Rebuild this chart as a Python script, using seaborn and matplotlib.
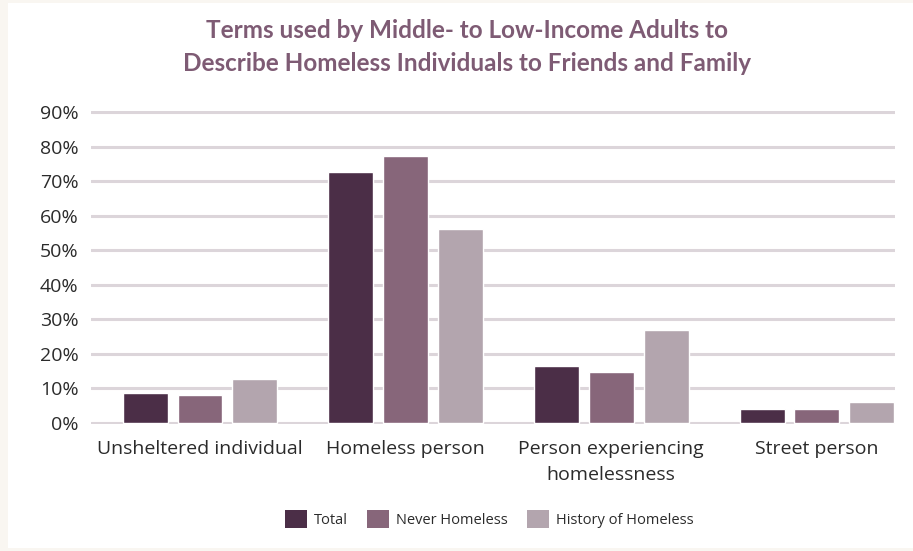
import matplotlib
matplotlib.use("Agg")
import matplotlib.pyplot as plt
from matplotlib.patches import Rectangle, Patch
import seaborn as sns
import pandas as pd

# Survey results (% of respondents using each term)
terms = ["Unsheltered individual", "Homeless person",
         "Person experiencing\nhomelessness", "Street person"]
groups = ["Total", "Never Homeless", "History of Homeless"]
total = [8.7, 72.8, 16.4, 3.9]
never_homeless = [7.9, 77.3, 14.6, 3.9]
history_homeless = [12.6, 56.1, 26.9, 6.1]
y_ticks = [0, 10, 20, 30, 40, 50, 60, 70, 80, 90]

colors = ["#4b2e47", "#87667a", "#b3a5ae"]
title_color = "#7e5b74"
grid_color = "#dcd5da"
text_color = "#2b2b2b"

df = pd.DataFrame({
    "term": terms * 3,
    "group": [g for g in groups for _ in terms],
    "value": total + never_homeless + history_homeless,
})

sns.set_theme(style="white")
plt.rcParams["font.family"] = ["Open Sans", "DejaVu Sans"]

fig = plt.figure(figsize=(9.13, 5.51), dpi=100)
fig.patch.set_facecolor("#f9f6f1")
# white card on cream border
fig.add_artist(Rectangle((8 / 913, 3 / 551), 1 - 8 / 913, 1 - 6 / 551,
                         transform=fig.transFigure, facecolor="white",
                         edgecolor="none", zorder=0))

ax = fig.add_axes([91 / 913, 0.2298, (895 - 91) / 913, 0.5695])
ax.set_facecolor("none")

sns.barplot(data=df, x="term", y="value", hue="group", palette=colors,
            width=0.8, gap=0.18, ax=ax, legend=False, zorder=3,
            saturation=1)

ax.set_xlim(-0.53, 3.38)
ax.set_ylim(-0.5, 90.5)
ax.set_yticks(y_ticks)
ax.set_yticklabels([f"{t}%" for t in y_ticks])
ax.yaxis.grid(True, color=grid_color, linewidth=2.2, zorder=0)
ax.set_axisbelow(True)
for s in ax.spines.values():
    s.set_visible(False)
ax.set_xlabel("")
ax.set_ylabel("")
ax.tick_params(axis="y", length=0, pad=9, labelsize=14, labelcolor=text_color)
ax.tick_params(axis="x", length=0, pad=11, labelsize=14, labelcolor=text_color)
for lbl in ax.get_xticklabels():
    lbl.set_linespacing(1.6)

fig.text(0.511, 0.965,
         "Terms used by Middle- to Low-Income Adults to\n"
         "Describe Homeless Individuals to Friends and Family",
         ha="center", va="top", fontsize=17.5, fontweight="bold",
         color=title_color, linespacing=1.5, family=["Lato", "DejaVu Sans"])

handles = [Patch(facecolor=c, edgecolor="none") for c in colors]
fig.legend(handles, groups, loc="center", bbox_to_anchor=(0.536, 0.058),
           ncol=3, frameon=False, fontsize=10.5, handlelength=1.5,
           handleheight=1.5, handletextpad=0.5, columnspacing=1.3,
           labelcolor=text_color)

fig.savefig("out.png", dpi=100)
